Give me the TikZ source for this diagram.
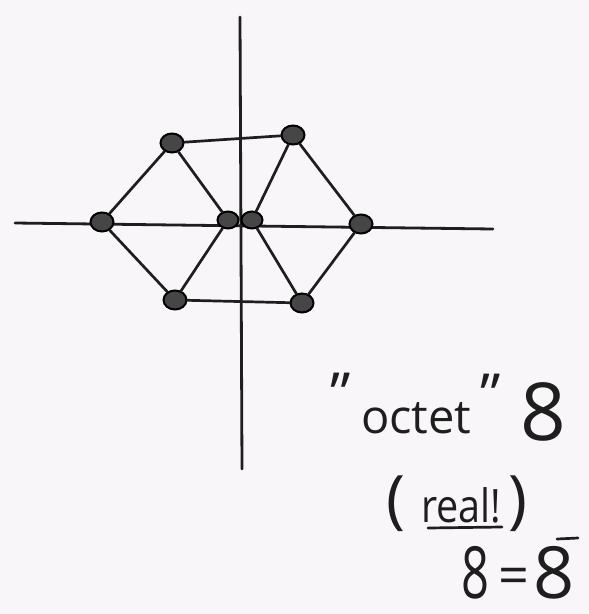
\documentclass[tikz,border=0pt]{standalone}
\usepackage{fontspec}
\usepackage{graphicx}
\setmainfont{Open Sans}
\usetikzlibrary{shapes.geometric}
\definecolor{paper}{RGB}{248,246,248}
\definecolor{ink}{RGB}{30,30,30}
\definecolor{dotfill}{RGB}{70,70,70}
\tikzset{
  axisline/.style={draw=ink, line width=2.8pt, line cap=round},
  edge/.style={draw=ink, line width=2.7pt, line cap=round},
  weight/.style={ellipse, draw=black, line width=2pt, fill=dotfill,
    minimum width=23pt, minimum height=19pt, inner sep=0pt},
  hand/.style={inner sep=0pt, text=ink},
}
\begin{document}
\begin{tikzpicture}[x=1pt,y=-1pt]
\fill[paper] (0,0) rectangle (589,614);
\useasboundingbox (0,0) rectangle (589,614);
% axes
\coordinate (xl) at (15,223);
\coordinate (xr) at (493,229);
\coordinate (yt) at (240,17);
\coordinate (yb) at (242,469);
\draw[axisline] (xl) -- (xr);
\draw[axisline] (yt) -- (yb);
% weights
\node[weight] (ul) at (172,143) {};
\node[weight] (ur) at (293,135) {};
\node[weight] (l)  at (102,222) {};
\node[weight, minimum width=21pt, minimum height=17pt] (cl) at (228,220) {};
\node[weight, minimum width=21pt, minimum height=17pt] (cr) at (252,220) {};
\node[weight] (r)  at (361,224) {};
\node[weight] (ll) at (175,300) {};
\node[weight] (lr) at (302,303) {};
% connectors
\draw[edge] (ul) -- (ur);
\draw[edge] (ul) -- (l);
\draw[edge] (ul) -- (cl);
\draw[edge] (ur) -- (cr);
\draw[edge] (ur) -- (r);
\draw[edge] (l) -- (ll);
\draw[edge] (ll) -- (cl);
\draw[edge] (cr) -- (lr);
\draw[edge] (r) -- (lr);
\draw[edge] (ll) -- (lr);
% text
\node[hand, anchor=north, font=\fontsize{58}{58}\selectfont] (qo) at (341,373) {"};
\node[hand, anchor=base west, font=\fontsize{47}{47}\selectfont] (oct) at (361,433) {octet};
\node[hand, anchor=north, font=\fontsize{58}{58}\selectfont] (qc) at (491,374) {”};
\node[hand, anchor=base west, font=\fontsize{80}{80}\selectfont] (eig) at (520,440) {8};
\node[hand, anchor=north, font=\fontsize{64}{64}\selectfont] (lp) at (396,476) {(};
\node[hand, anchor=base west, font=\fontsize{46}{46}\selectfont] (real) at (421,522) {\scalebox{0.86}[1]{real!}};
\coordinate (ua) at (428,528);
\coordinate (ub) at (502,527);
\draw[edge] (ua) -- (ub);
\node[hand, anchor=north, font=\fontsize{64}{64}\selectfont] (rp) at (518,476) {)};
\node[hand, anchor=base west, font=\fontsize{72}{72}\selectfont] (e1) at (461,598) {\scalebox{0.68}[1]{8}};
\node[hand, font=\fontsize{54}{54}\selectfont] (eq) at (514,581) {=};
\node[hand, anchor=base west, font=\fontsize{72}{72}\selectfont] (e2) at (533,598) {8};
\coordinate (ba) at (557,539);
\coordinate (bb) at (578,538);
\draw[edge] (ba) -- (bb);
\end{tikzpicture}
\end{document}
